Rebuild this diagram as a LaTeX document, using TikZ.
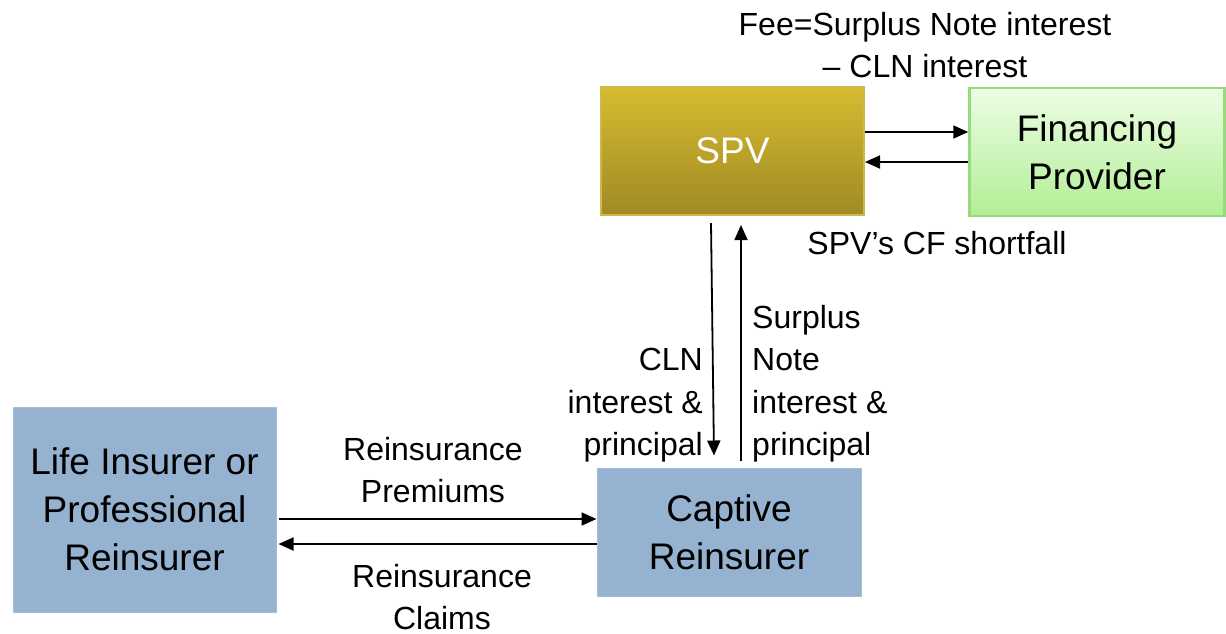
\documentclass[tikz,border=0pt]{standalone}
\usepackage{fontspec}
\setmainfont{Liberation Sans}
\usetikzlibrary{arrows.meta,calc}
\definecolor{boxblue}{RGB}{149,179,208}
\definecolor{spvtop}{RGB}{215,187,48}
\definecolor{spvbot}{RGB}{160,138,37}
\definecolor{spvline}{RGB}{205,185,75}
\definecolor{fintop}{RGB}{236,253,228}
\definecolor{finbot}{RGB}{178,238,150}
\definecolor{finline}{RGB}{150,220,125}
\tikzset{
  bigtext/.style={font=\fontsize{37}{48}\selectfont, align=center, inner sep=0pt},
  bluebox/.style={bigtext, fill=boxblue, draw=boxblue!85!white, line width=1pt},
  spvbox/.style={bigtext, top color=spvtop, bottom color=spvbot, draw=spvline, line width=2pt, text=white},
  finbox/.style={bigtext, top color=fintop, bottom color=finbot, draw=finline, line width=2.5pt},
  lbl/.style={font=\fontsize{32}{42.5}\selectfont, align=center, inner sep=0pt},
  flow/.style={line width=1.8pt, -{Triangle[length=15pt,width=13pt]}}
}
\begin{document}
\begin{tikzpicture}[x=1pt,y=-1pt]
\useasboundingbox (0,0) rectangle (1226,633);

% parties
\node[bluebox, minimum width=263pt, minimum height=205pt] (life) at (144.5,509.5)
  {Life Insurer or\\Professional\\Reinsurer};
\node[bluebox, minimum width=264pt, minimum height=128pt] (cap) at (729,532)
  {Captive\\Reinsurer};
\node[spvbox, minimum width=263pt, minimum height=128pt] (spv) at (732.5,151) {SPV};
\node[finbox, minimum width=255pt, minimum height=128pt] (fin) at (1097,152)
  {Financing\\Provider};

% flow labels
\node[lbl] (fee) at (925,45) {Fee=Surplus Note interest\\– CLN interest};
\node[lbl] (cf) at (937,243) {SPV’s CF shortfall};
\node[lbl] (prem) at (433,470) {Reinsurance\\Premiums};
\node[lbl] (claims) at (442,597) {Reinsurance\\Claims};
\node[lbl, anchor=north east, align=right] (cln) at (703,348) {CLN\\interest \&\\principal};
\node[lbl, anchor=north west, align=left] (sn) at (752,305) {Surplus\\Note\\interest \&\\principal};

% SPV <-> financing provider
\draw[flow] ([yshift=19pt]spv.east) -- ([yshift=20pt]fin.west);
\draw[flow] ([yshift=-10pt]fin.west) -- ([yshift=-11pt]spv.east);

% SPV <-> captive
\draw[flow] ([xshift=-21.5pt,yshift=-7pt]spv.south) -- ([xshift=-15pt,yshift=12pt]cap.north);
\draw[flow] ([xshift=12pt,yshift=7pt]cap.north) -- ([xshift=8.5pt,yshift=-9pt]spv.south);

% cedent <-> captive
\draw[flow] ([xshift=2pt,yshift=-9.5pt]life.east) -- ([yshift=13pt]cap.west);
\draw[flow] ([yshift=-12pt]cap.west) -- ([xshift=2pt,yshift=-34.5pt]life.east);
\end{tikzpicture}
\end{document}
